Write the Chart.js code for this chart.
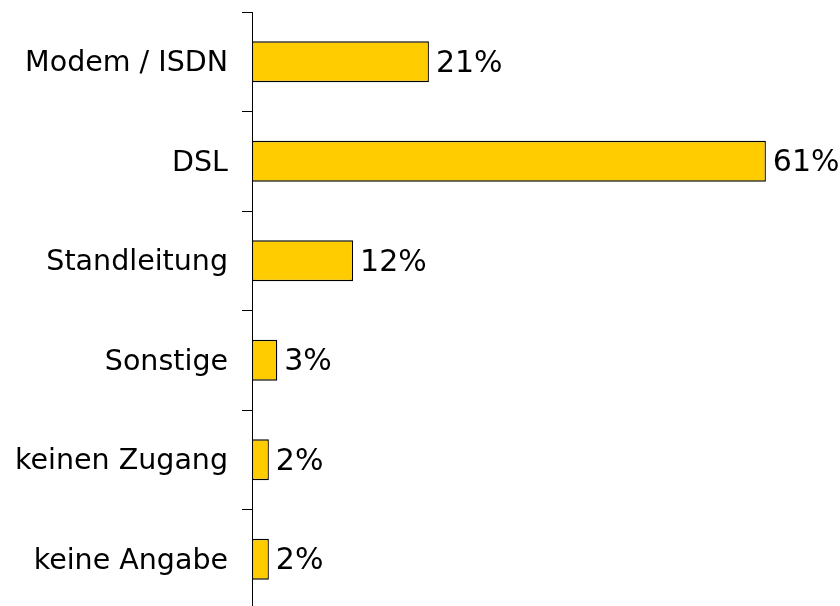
<!DOCTYPE html>
<html>
<head>
<meta charset="utf-8">
<script src="https://cdn.jsdelivr.net/npm/chart.js@4"></script>
<style>
  html, body { margin: 0; padding: 0; background: #fff; overflow: hidden; }
  #wrap { width: 840px; height: 606px; overflow: hidden; position: relative; }
  canvas { display: block; }
</style>
</head>
<body>
<div id="wrap"><canvas id="c" width="840" height="609" style="width:840px;height:609px"></canvas></div>
<script>
const categories = ["Modem / ISDN", "DSL", "Standleitung", "Sonstige", "keinen Zugang", "keine Angabe"];
const shares = [21, 61, 12, 3, 2, 2];
const valueLabels = ["21%", "61%", "12%", "3%", "2%", "2%"];

const FONT = "'DejaVu Sans', Verdana, sans-serif";
const LABEL_SIZE = 28.5;
const VALUE_SIZE = 30;

const valueLabelPlugin = {
  id: 'valueLabels',
  afterDatasetsDraw(chart) {
    const ctx = chart.ctx;
    const meta = chart.getDatasetMeta(0);
    ctx.save();
    ctx.font = VALUE_SIZE + "px " + FONT;
    ctx.fillStyle = "#000";
    ctx.textAlign = "left";
    ctx.textBaseline = "middle";
    meta.data.forEach((bar, i) => {
      ctx.fillText(valueLabels[i], bar.x + 7, bar.y + 2);
    });
    ctx.restore();
  }
};

new Chart(document.getElementById('c'), {
  type: 'bar',
  data: {
    labels: categories,
    datasets: [{
      data: shares,
      backgroundColor: '#FFCC00',
      borderColor: '#000',
      borderWidth: 1.3,
      borderSkipped: false,
      categoryPercentage: 1,
      barPercentage: 0.41
    }]
  },
  options: {
    indexAxis: 'y',
    responsive: false,
    animation: false,
    devicePixelRatio: 1,
    layout: { padding: { top: 12, bottom: 0, left: 0, right: 0 } },
    plugins: { legend: { display: false }, tooltip: { enabled: false } },
    scales: {
      x: { display: false, min: 0, max: 69.8 },
      y: {
        afterFit(scale) { scale.width = 252; scale.paddingTop = 0; scale.paddingBottom = 0; },
        border: { display: true, color: '#000', width: 1 },
        grid: { display: true, drawOnChartArea: false, drawTicks: true, tickLength: 10, color: '#000', offset: true },
        ticks: { color: '#000', font: { family: FONT, size: LABEL_SIZE }, padding: 14, labelOffset: 2 }
      }
    }
  },
  plugins: [valueLabelPlugin]
});
</script>
</body>
</html>
